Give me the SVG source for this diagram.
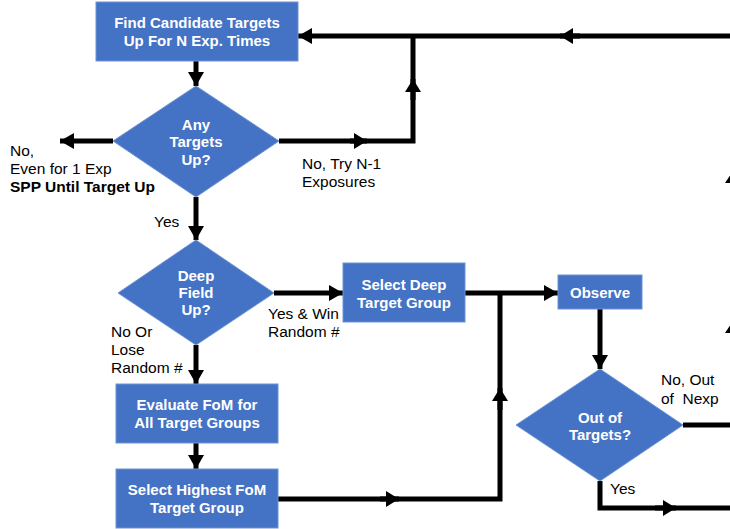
<svg xmlns="http://www.w3.org/2000/svg" width="730" height="529" viewBox="0 0 730 529">
<style>
.box{fill:#4472C4;stroke:#6F93D3;stroke-width:1}
.nt{font-family:"Liberation Sans",Arial,sans-serif;font-weight:bold;font-size:15px;fill:#FFFFFF;text-anchor:middle}
.lb{font-family:"Liberation Sans",Arial,sans-serif;font-size:15.5px;fill:#000000}
.lbb{font-family:"Liberation Sans",Arial,sans-serif;font-size:15.5px;font-weight:bold;fill:#000000}
.ln{fill:none;stroke:#000000;stroke-width:5}
.ah{fill:#000000}
</style>
<defs>
<marker id="arr" markerUnits="userSpaceOnUse" markerWidth="16" markerHeight="16" refX="14" refY="8" orient="auto" viewBox="0 0 16 16">
<path d="M0,0 L14,8 L0,16 z" fill="#000000"/>
</marker>
<marker id="mid" markerUnits="userSpaceOnUse" markerWidth="16" markerHeight="16" refX="13" refY="8" orient="auto" viewBox="0 0 16 16">
<path d="M0,0 L13,8 L0,16 z" fill="#000000"/>
</marker>
</defs>

<g id="connectors">
<path class="ln" d="M196,61 V86" marker-end="url(#arr)"/>
<path class="ln" d="M113,141 H60" marker-end="url(#arr)"/>
<path class="ln" d="M279,141 H413 V36"/>
<path class="ln" d="M350,141 H367" marker-end="url(#mid)"/>
<path class="ln" d="M413,100 V79" marker-end="url(#mid)"/>
<path class="ln" d="M730,36 H298" marker-end="url(#arr)"/>
<path class="ln" d="M580,36 H560" marker-end="url(#mid)"/>
<path class="ln" d="M196,197 V240" marker-end="url(#arr)"/>
<path class="ln" d="M274,293 H343" marker-end="url(#arr)"/>
<path class="ln" d="M196,345 V384" marker-end="url(#arr)"/>
<path class="ln" d="M196,443 V469" marker-end="url(#arr)"/>
<path class="ln" d="M277,499 H500 V293"/>
<path class="ln" d="M380,499 H399" marker-end="url(#mid)"/>
<path class="ln" d="M500,410 V388" marker-end="url(#mid)"/>
<path class="ln" d="M465,293 H558" marker-end="url(#arr)"/>
<path class="ln" d="M600,309 V369" marker-end="url(#arr)"/>
<path class="ln" d="M683,425 H730"/>
<path class="ln" d="M600,481 V508 H730"/>
<path class="ln" d="M655,508 H676" marker-end="url(#mid)"/>
<polygon class="ah" points="735,168 725,183 745,183"/>
<polygon class="ah" points="735,318 725,333 745,333"/>
</g>

<g id="find">
<rect class="box" x="96" y="2" width="202" height="59"/>
<text class="nt" x="197" y="28">Find Candidate Targets</text>
<text class="nt" x="197" y="46">Up For N Exp. Times</text>
</g>

<g id="anyup">
<polygon class="box" points="196,86 279,141 196,197 113,141"/>
<text class="nt" x="196" y="130">Any</text>
<text class="nt" x="196" y="147">Targets</text>
<text class="nt" x="196" y="165">Up?</text>
</g>

<g id="deepfield">
<polygon class="box" points="196,240 274,293 196,345 118,293"/>
<text class="nt" x="196" y="281">Deep</text>
<text class="nt" x="196" y="298">Field</text>
<text class="nt" x="196" y="315">Up?</text>
</g>

<g id="selectdeep">
<rect class="box" x="343" y="263" width="122" height="59"/>
<text class="nt" x="404" y="290">Select Deep</text>
<text class="nt" x="404" y="308">Target Group</text>
</g>

<g id="observe">
<rect class="box" x="558" y="275" width="84" height="34"/>
<text class="nt" x="600" y="298">Observe</text>
</g>

<g id="evaluate">
<rect class="box" x="116" y="384" width="162" height="59"/>
<text class="nt" x="197" y="410">Evaluate FoM for</text>
<text class="nt" x="197" y="428">All Target Groups</text>
</g>

<g id="selecthighest">
<rect class="box" x="116" y="469" width="162" height="59"/>
<text class="nt" x="197" y="495">Select Highest FoM</text>
<text class="nt" x="197" y="513">Target Group</text>
</g>

<g id="outoftargets">
<polygon class="box" points="600,369 683,425 600,481 516,425"/>
<text class="nt" x="600" y="423">Out of</text>
<text class="nt" x="600" y="440">Targets?</text>
</g>

<g id="labels">
<text class="lb" x="10" y="156">No,</text>
<text class="lb" x="10" y="174">Even for 1 Exp</text>
<text class="lbb" x="10" y="192">SPP Until Target Up</text>
<text class="lb" x="302" y="169">No, Try N-1</text>
<text class="lb" x="302" y="187">Exposures</text>
<text class="lb" x="154" y="227">Yes</text>
<text class="lb" x="268" y="319">Yes &amp; Win</text>
<text class="lb" x="268" y="337">Random #</text>
<text class="lb" x="111" y="337">No Or</text>
<text class="lb" x="111" y="355">Lose</text>
<text class="lb" x="111" y="373">Random #</text>
<text class="lb" x="661" y="385">No, Out</text>
<text class="lb" x="661" y="404" xml:space="preserve">of  Nexp</text>
<text class="lb" x="610" y="494">Yes</text>
</g>
</svg>
